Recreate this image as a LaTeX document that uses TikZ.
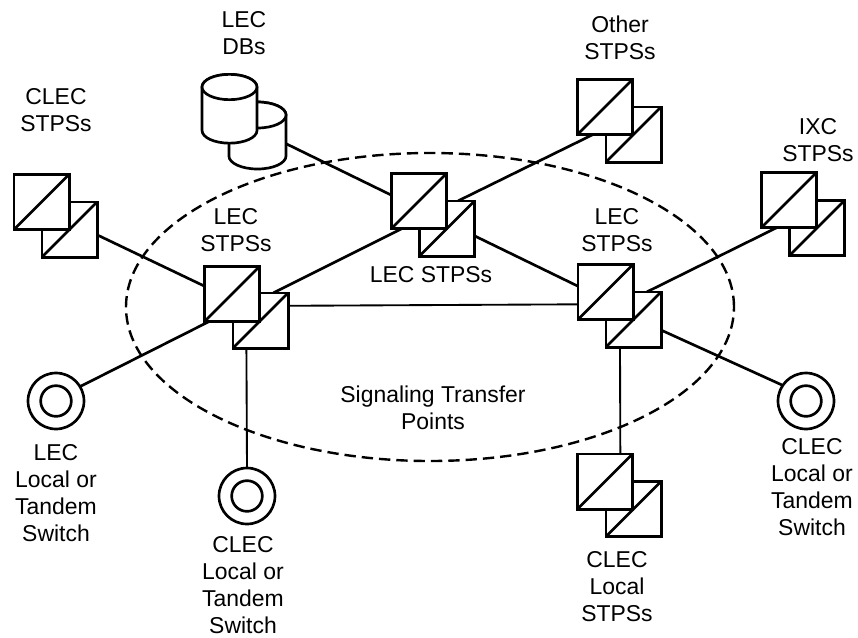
\documentclass[tikz,border=0pt]{standalone}
\usepackage{fontspec}
\setmainfont{Liberation Sans}
\usetikzlibrary{shapes.geometric}
\tikzset{
  thick line/.style={line width=2pt,line join=miter},
  thin line/.style={line width=1.4pt},
  stpbox/.style={rectangle,draw,thick line,fill=white,minimum size=41.5pt,inner sep=0pt,outer sep=0pt,
    path picture={\draw[line width=2pt] (path picture bounding box.south west) -- (path picture bounding box.north east);}},
  ringout/.style={circle,draw,thick line,fill=white,minimum size=42pt,inner sep=0pt,outer sep=0pt},
  ringin/.style={circle,draw,thick line,fill=white,minimum size=23pt,inner sep=0pt,outer sep=0pt},
  lab/.style={align=center,inner sep=0pt,font=\fontsize{17.2}{20.25}\selectfont},
  oval/.style={ellipse,draw,line width=1.8pt,dash pattern=on 8.5pt off 4.5pt,minimum width=456pt,minimum height=231pt,inner sep=0pt,outer sep=0pt},
  dbbody/.style={draw,thick line,fill=white},
  hidden/.style={rectangle,minimum width=42.75pt,minimum height=50.25pt,inner sep=0pt,outer sep=0pt}
}
\begin{document}
\begin{tikzpicture}[x=0.75pt,y=-0.75pt]
\useasboundingbox (0,0) rectangle (858,637);
\fill[white] (0,0) rectangle (858,637);
% dashed boundary
\node[oval] (ring) at (430,307) {};
% pairs of signal transfer points
\node[stpbox] (clecb) at (69.5,229.5) {};
\node[stpbox] (clecf) at (41.5,202) {};
\node[stpbox] (leftb) at (260.5,320.5) {};
\node[stpbox] (leftf) at (232,294) {};
\node[stpbox] (midb) at (447,228.5) {};
\node[stpbox] (midf) at (419,201) {};
\node[stpbox] (otherb) at (633.5,134.5) {};
\node[stpbox] (otherf) at (605,107) {};
\node[stpbox] (ixcb) at (817,228) {};
\node[stpbox] (ixcf) at (789,200) {};
\node[stpbox] (rightb) at (633.5,319.5) {};
\node[stpbox] (rightf) at (605.5,292) {};
\node[stpbox] (localb) at (633.5,509) {};
\node[stpbox] (localf) at (605,481.5) {};
% switches
\node[ringout] (swa) at (56,401) {};
\node[ringin] (swai) at (56,401) {};
\node[ringout] (swb) at (247,496) {};
\node[ringin] (swbi) at (247,496) {};
\node[ringout] (swc) at (806,401) {};
\node[ringin] (swci) at (806,401) {};
% databases
\draw[dbbody] (229,115) arc[start angle=180,end angle=0,x radius=21.4pt,y radius=9.75pt] -- (286,156) arc[start angle=0,end angle=-180,x radius=21.4pt,y radius=9.75pt] -- cycle;
\draw[dbbody] (257.5,115) ellipse [x radius=21.4pt,y radius=9.75pt];
\draw[dbbody] (202,87) arc[start angle=180,end angle=0,x radius=20.6pt,y radius=9.5pt] -- (257,130.5) arc[start angle=0,end angle=-180,x radius=20.6pt,y radius=9.5pt] -- cycle;
\draw[dbbody] (229.5,87) ellipse [x radius=20.6pt,y radius=9.5pt];
\node[hidden] (db) at (257.5,135.5) {};
% connectors
\draw[thick line] (clecb.-11) -- (leftf.164);
\draw[thick line] (db.-16) -- (midf.168);
\draw[thick line] (leftb.65.6) -- (midf.238);
\draw[thick line] (midb.68) -- (otherf.246);
\draw[thick line] (midb.-15) -- (rightf.168);
\draw[thin line] (leftb.28.6) -- (rightf.204.5);
\draw[thick line] (rightb.64) -- (ixcf.246);
\draw[thick line] (rightb.-21) -- (swc.146);
\draw[thin line] (rightb.244.7) -- (localf.61.4);
\draw[thick line] (leftf.230.6) -- (swa.31.6);
\draw[thin line] (leftb.243.8) -- (swb.90);
% labels
\node[lab] (t1) at (244,33) {LEC\\DBs};
\node[lab] (t2) at (56,110) {CLEC\\STPSs};
\node[lab] (t3) at (236,230) {LEC\\STPSs};
\node[lab] (t4) at (431,275) {LEC STPSs};
\node[lab] (t5) at (620,38) {Other\\STPSs};
\node[lab] (t6) at (818,140) {IXC\\STPSs};
\node[lab] (t7) at (617,230) {LEC\\STPSs};
\node[lab] (t8) at (433,408) {Signaling Transfer\\Points};
\node[lab] (t9) at (56,493.5) {LEC\\Local or\\Tandem\\Switch};
\node[lab] (t10) at (243,585) {CLEC\\Local or\\Tandem\\Switch};
\node[lab] (t11) at (812,487) {CLEC\\Local or\\Tandem\\Switch};
\node[lab] (t12) at (617,587) {CLEC\\Local\\STPSs};
\end{tikzpicture}
\end{document}
